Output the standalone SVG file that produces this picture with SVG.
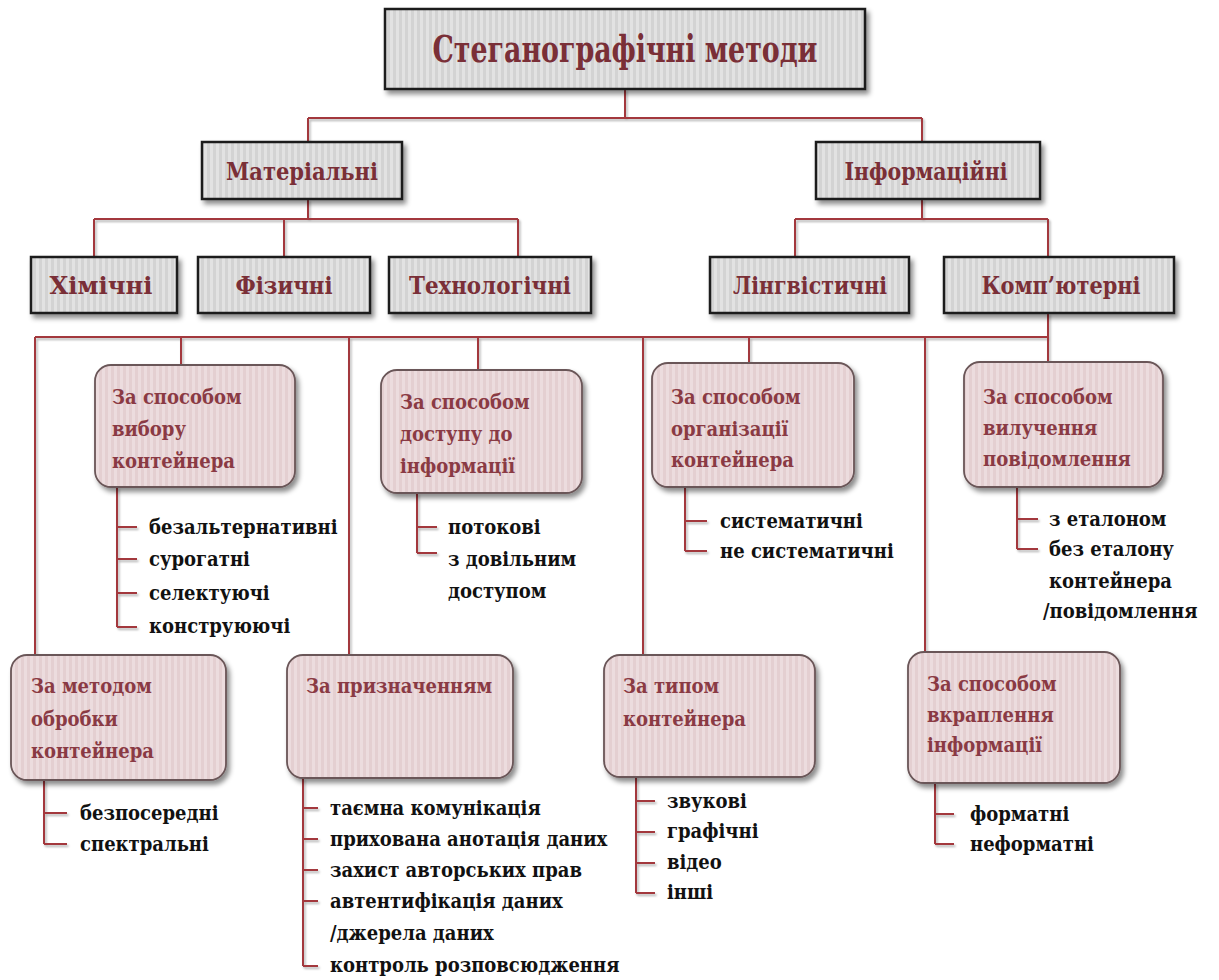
<svg xmlns="http://www.w3.org/2000/svg" width="1219" height="980" viewBox="0 0 1219 980">
  <defs>
    <pattern id="grayStripes" width="6" height="10" patternUnits="userSpaceOnUse">
      <rect width="6" height="10" fill="#d3d3d3"/>
      <rect x="0" width="3" height="10" fill="#e2e2e2"/>
    </pattern>
    <pattern id="pinkStripes" width="6" height="10" patternUnits="userSpaceOnUse">
      <rect width="6" height="10" fill="#e4cfd1"/>
      <rect x="0" width="3" height="10" fill="#ecdcde"/>
    </pattern>
    <filter id="shadow" x="-10%" y="-10%" width="130%" height="140%">
      <feDropShadow dx="3" dy="4" stdDeviation="2.5" flood-color="#000" flood-opacity="0.45"/>
    </filter>
    <filter id="lineShadow" x="-5%" y="-5%" width="110%" height="110%">
      <feDropShadow dx="1.5" dy="2" stdDeviation="1.2" flood-color="#000" flood-opacity="0.3"/>
    </filter>
  </defs>
  <style>
    .sq { fill: url(#grayStripes); stroke: #1a1a1a; stroke-width: 2.5; filter: url(#shadow); }
    .rd { fill: url(#pinkStripes); stroke: #6a5658; stroke-width: 1.8; filter: url(#shadow); }
    .head { font-family: "DejaVu Serif Condensed", "DejaVu Serif", "Liberation Serif", serif; font-stretch: condensed; font-weight: bold; fill: #7a2f37; text-anchor: middle; }
    .lbl { font-family: "DejaVu Serif Condensed", "DejaVu Serif", "Liberation Serif", serif; font-stretch: condensed; font-weight: bold; font-size: 20px; fill: #8a3a44; }
    .item { font-family: "DejaVu Serif Condensed", "DejaVu Serif", "Liberation Serif", serif; font-stretch: condensed; font-weight: bold; font-size: 20px; fill: #111; }
    .con { fill: none; stroke: #a3373d; stroke-width: 2; }
  </style>

  <rect width="1219" height="980" fill="#ffffff"/>

  <!-- connectors and list brackets -->
  <g id="connectors" class="con" filter="url(#lineShadow)">
    <path d="M625 89 V118 M308 118 H922 M308 118 V143 M922 118 V143"/>
    <path d="M308 199 V219 M94 219 H518 M94 219 V257 M284 219 V257 M518 219 V257"/>
    <path d="M922 199 V219 M795 219 H1048 M795 219 V257 M1048 219 V257"/>
    <path d="M1048 313 V337 M35 337 H1048"/>
    <path d="M35 337 V655 M181 337 V365 M349 337 V655 M478 337 V370 M643 337 V655 M749 337 V363 M925 337 V652 M1048 337 V362"/>
    <!-- item brackets -->
    <path d="M117 487 V627 M117 527 H137 M117 559 H137 M117 593 H137 M117 627 H137"/>
    <path d="M417 493 V553 M417 527 H437 M417 553 H437"/>
    <path d="M685 487 V551 M685 521 H707 M685 551 H707"/>
    <path d="M1017 487 V549 M1017 519 H1038 M1017 549 H1038"/>
    <path d="M44 780 V844 M44 813 H67 M44 844 H67"/>
    <path d="M303 778 V966 M303 808 H318 M303 839 H318 M303 870 H318 M303 901 H318 M303 966 H318"/>
    <path d="M636 777 V893 M636 801 H655 M636 832 H655 M636 863 H655 M636 893 H655"/>
    <path d="M935 783 V844 M935 814 H954 M935 844 H954"/>
  </g>

  <!-- top level -->
  <g id="n-root">
    <rect class="sq" x="385" y="9" width="480" height="80"/>
    <text class="head" x="625" y="62" font-size="38" textLength="385" lengthAdjust="spacingAndGlyphs">Стеганографічні методи</text>
  </g>

  <g id="n-material">
    <rect class="sq" x="202" y="142" width="200" height="57"/>
    <text class="head" x="302" y="180" font-size="25" textLength="152" lengthAdjust="spacingAndGlyphs">Матеріальні</text>
  </g>
  <g id="n-inform">
    <rect class="sq" x="816" y="142" width="224" height="57"/>
    <text class="head" x="926" y="180" font-size="25" textLength="163" lengthAdjust="spacingAndGlyphs">Інформаційні</text>
  </g>

  <g id="n-chem">
    <rect class="sq" x="31" y="257" width="146" height="56"/>
    <text class="head" x="101" y="294" font-size="25" textLength="103" lengthAdjust="spacingAndGlyphs">Хімічні</text>
  </g>
  <g id="n-phys">
    <rect class="sq" x="198" y="257" width="172" height="56"/>
    <text class="head" x="284" y="294" font-size="25" textLength="97" lengthAdjust="spacingAndGlyphs">Фізичні</text>
  </g>
  <g id="n-tech">
    <rect class="sq" x="389" y="257" width="202" height="56"/>
    <text class="head" x="490" y="294" font-size="25" textLength="162" lengthAdjust="spacingAndGlyphs">Технологічні</text>
  </g>
  <g id="n-ling">
    <rect class="sq" x="710" y="257" width="199" height="56"/>
    <text class="head" x="810" y="294" font-size="25" textLength="154" lengthAdjust="spacingAndGlyphs">Лінгвістичні</text>
  </g>
  <g id="n-comp">
    <rect class="sq" x="944" y="257" width="230" height="56"/>
    <text class="head" x="1061" y="294" font-size="25" textLength="159" lengthAdjust="spacingAndGlyphs">Комп’ютерні</text>
  </g>

  <!-- classification criteria -->
  <g id="n-choice">
    <rect class="rd" x="95" y="365" width="200" height="122" rx="16"/>
    <text class="lbl"><tspan x="112" y="404">За способом</tspan><tspan x="112" y="436">вибору</tspan><tspan x="112" y="468">контейнера</tspan></text>
    <text class="item"><tspan x="149" y="534">безальтернативні</tspan><tspan x="149" y="566">сурогатні</tspan><tspan x="149" y="600">селектуючі</tspan><tspan x="149" y="633">конструюючі</tspan></text>
  </g>

  <g id="n-access">
    <rect class="rd" x="381" y="370" width="201" height="123" rx="16"/>
    <text class="lbl"><tspan x="400" y="409">За способом</tspan><tspan x="400" y="441">доступу до</tspan><tspan x="400" y="473">інформації</tspan></text>
    <text class="item"><tspan x="448" y="534">потокові</tspan><tspan x="448" y="566">з довільним</tspan><tspan x="448" y="598">доступом</tspan></text>
  </g>

  <g id="n-organize">
    <rect class="rd" x="652" y="363" width="202" height="124" rx="16"/>
    <text class="lbl"><tspan x="671" y="404">За способом</tspan><tspan x="671" y="436">організації</tspan><tspan x="671" y="467">контейнера</tspan></text>
    <text class="item"><tspan x="720" y="528">систематичні</tspan><tspan x="720" y="558">не систематичні</tspan></text>
  </g>

  <g id="n-extract">
    <rect class="rd" x="964" y="362" width="199" height="125" rx="16"/>
    <text class="lbl"><tspan x="983" y="404">За способом</tspan><tspan x="983" y="435">вилучення</tspan><tspan x="983" y="466">повідомлення</tspan></text>
    <text class="item"><tspan x="1049" y="526">з еталоном</tspan><tspan x="1049" y="556">без еталону</tspan><tspan x="1049" y="588">контейнера</tspan><tspan x="1043" y="618">/повідомлення</tspan></text>
  </g>

  <g id="n-process">
    <rect class="rd" x="11" y="655" width="215" height="125" rx="16"/>
    <text class="lbl"><tspan x="31" y="693">За методом</tspan><tspan x="31" y="726">обробки</tspan><tspan x="31" y="758">контейнера</tspan></text>
    <text class="item"><tspan x="80" y="820">безпосередні</tspan><tspan x="80" y="851">спектральні</tspan></text>
  </g>

  <g id="n-purpose">
    <rect class="rd" x="287" y="655" width="226" height="123" rx="16"/>
    <text class="lbl" x="306" y="693">За призначенням</text>
    <text class="item"><tspan x="330" y="815">таємна комунікація</tspan><tspan x="330" y="846">прихована анотація даних</tspan><tspan x="330" y="877">захист авторських прав</tspan><tspan x="330" y="908">автентифікація даних</tspan><tspan x="330" y="940">/джерела даних</tspan><tspan x="330" y="972">контроль розповсюдження</tspan></text>
  </g>

  <g id="n-type">
    <rect class="rd" x="604" y="655" width="211" height="122" rx="16"/>
    <text class="lbl"><tspan x="623" y="693">За типом</tspan><tspan x="623" y="726">контейнера</tspan></text>
    <text class="item"><tspan x="667" y="808">звукові</tspan><tspan x="667" y="838">графічні</tspan><tspan x="667" y="869">відео</tspan><tspan x="667" y="899">інші</tspan></text>
  </g>

  <g id="n-embed">
    <rect class="rd" x="908" y="652" width="212" height="131" rx="16"/>
    <text class="lbl"><tspan x="927" y="691">За способом</tspan><tspan x="927" y="722">вкраплення</tspan><tspan x="927" y="752">інформації</tspan></text>
    <text class="item"><tspan x="970" y="821">форматні</tspan><tspan x="970" y="851">неформатні</tspan></text>
  </g>
</svg>
